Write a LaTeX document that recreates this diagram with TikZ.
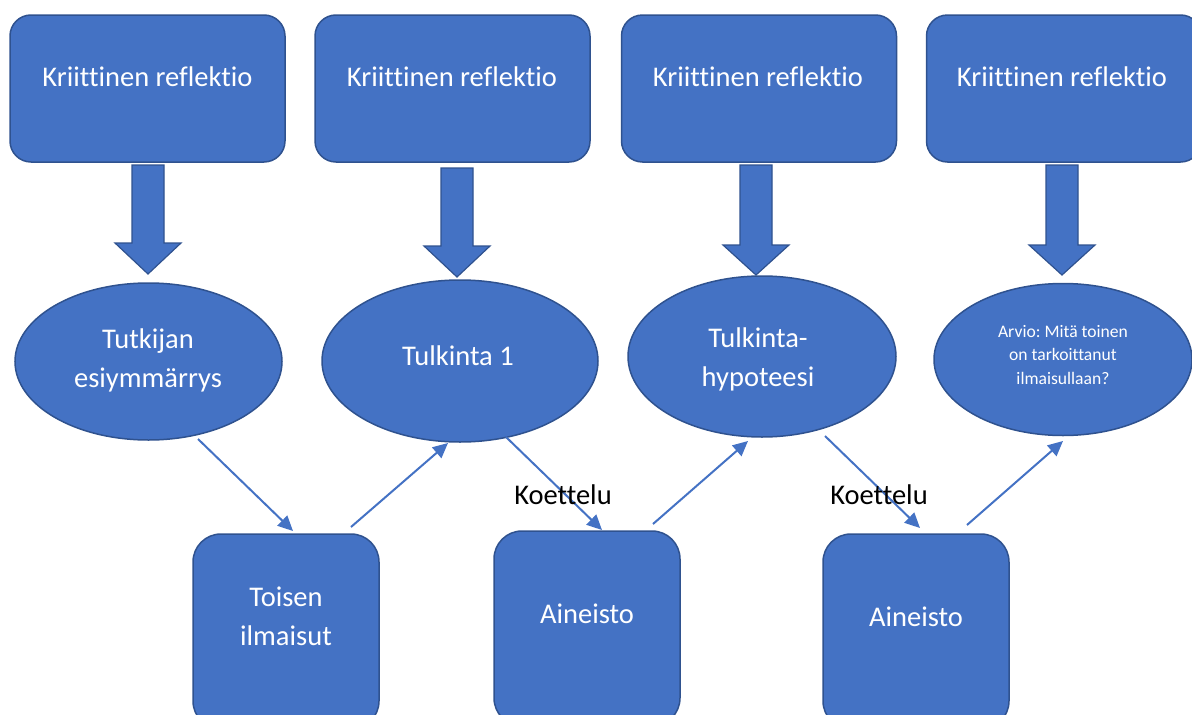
\documentclass[tikz,border=0pt]{standalone}
\usepackage{fontspec}
\setmainfont{Carlito}[Ligatures={NoCommon}]
\frenchspacing
\usetikzlibrary{arrows.meta,calc,shapes.geometric}
\definecolor{fillb}{HTML}{4472C4}
\definecolor{edgeb}{HTML}{2F528F}
\tikzset{
  topbox/.style={draw=edgeb,fill=fillb,line width=1.5pt,rounded corners=21pt,minimum width=275pt,minimum height=147pt,inner sep=0pt},
  botbox/.style={draw=edgeb,fill=fillb,line width=1.5pt,rounded corners=28pt,minimum width=186pt,minimum height=195pt,inner sep=0pt},
  oval/.style={draw=edgeb,fill=fillb,line width=1.5pt,ellipse,inner sep=0pt},
  wtxt/.style={text=white,align=center,inner sep=0pt,font=\fontsize{28.5}{39}\selectfont},
  smalltxt/.style={text=white,align=center,inner sep=0pt,font=\fontsize{17.6}{23.5}\selectfont},
  btxt/.style={text=black,inner sep=0pt,font=\fontsize{28.5}{30}\selectfont},
  blockarrow/.style={draw=edgeb,fill=fillb,line width=1.2pt},
  conn/.style={draw=fillb,line width=2pt,-{Triangle[length=15pt,width=14pt]}}
}
\begin{document}
\begin{tikzpicture}[x=1pt,y=-1pt]
\useasboundingbox (0,0) rectangle (1192,715);
\clip (0,0) rectangle (1192,715);
% top boxes
\node[topbox] (k1) at (147.5,88.5) {};
\node[topbox] (k2) at (452.5,88.5) {};
\node[topbox] (k3) at (759,88.5) {};
\node[topbox] (k4) at (1064,88.5) {};
\node[wtxt] (tk1) at (147.5,77) {Kriittinen reflektio};
\node[wtxt] (tk2) at (452,77) {Kriittinen reflektio};
\node[wtxt] (tk3) at (758,77) {Kriittinen reflektio};
\node[wtxt] (tk4) at (1062,77) {Kriittinen reflektio};
% block arrows
\foreach \cx/\ty/\hy/\tip in {148/165/243/274, 457/168/246/277, 756/165/245/275, 1062/165/245/275}{
  \draw[blockarrow] (\cx-16,\ty) -- (\cx+16,\ty) -- (\cx+16,\hy) -- (\cx+33,\hy) -- (\cx,\tip) -- (\cx-33,\hy) -- (\cx-16,\hy) -- cycle;
}
% ellipses
\node[oval,minimum width=267pt,minimum height=157pt] (e1) at (148.5,361.5) {};
\node[oval,minimum width=276pt,minimum height=162pt] (e2) at (460,361) {};
\node[oval,minimum width=268pt,minimum height=161pt] (e3) at (762,356.5) {};
\node[oval,minimum width=258pt,minimum height=152pt] (e4) at (1063,359.5) {};
\node[wtxt] (te1) at (148,360) {Tutkijan\\esiymmärrys};
\node[wtxt] (te2) at (458,356) {Tulkinta 1};
\node[wtxt] (te3) at (758,359) {Tulkinta-\\hypoteesi};
\node[smalltxt] (te4) at (1063,355) {Arvio: Mitä toinen\\on tarkoittanut\\ilmaisullaan?};
% bottom boxes
\node[botbox] (b1) at (286,631.5) {};
\node[botbox] (b2) at (587,628.5) {};
\node[botbox] (b3) at (916,631.5) {};
\node[wtxt] (tb1) at (286,616) {Toisen\\ilmaisut};
\node[wtxt] (tb2) at (587,614) {Aineisto};
\node[wtxt] (tb3) at (916,617) {Aineisto};
% connector end points
\coordinate (s1) at (198,439);  \coordinate (t1) at (293,531);
\coordinate (s2) at (351,527);  \coordinate (t2) at (448,443);
\coordinate (s3) at (506,437);  \coordinate (t3) at (602,530);
\coordinate (s4) at (653,524);  \coordinate (t4) at (748,441);
\coordinate (s5) at (825,436);  \coordinate (t5) at (920,528);
\coordinate (s6) at (967,525);  \coordinate (t6) at (1063,441);
\draw[conn] (s1) -- (t1);
\draw[conn] (s2) -- (t2);
\draw[conn] (s3) -- (t3);
\draw[conn] (s4) -- (t4);
\draw[conn] (s5) -- (t5);
\draw[conn] (s6) -- (t6);
% labels
\node[btxt] (l1) at (563,495) {Koettelu};
\node[btxt] (l2) at (879,495) {Koettelu};
\end{tikzpicture}
\end{document}
